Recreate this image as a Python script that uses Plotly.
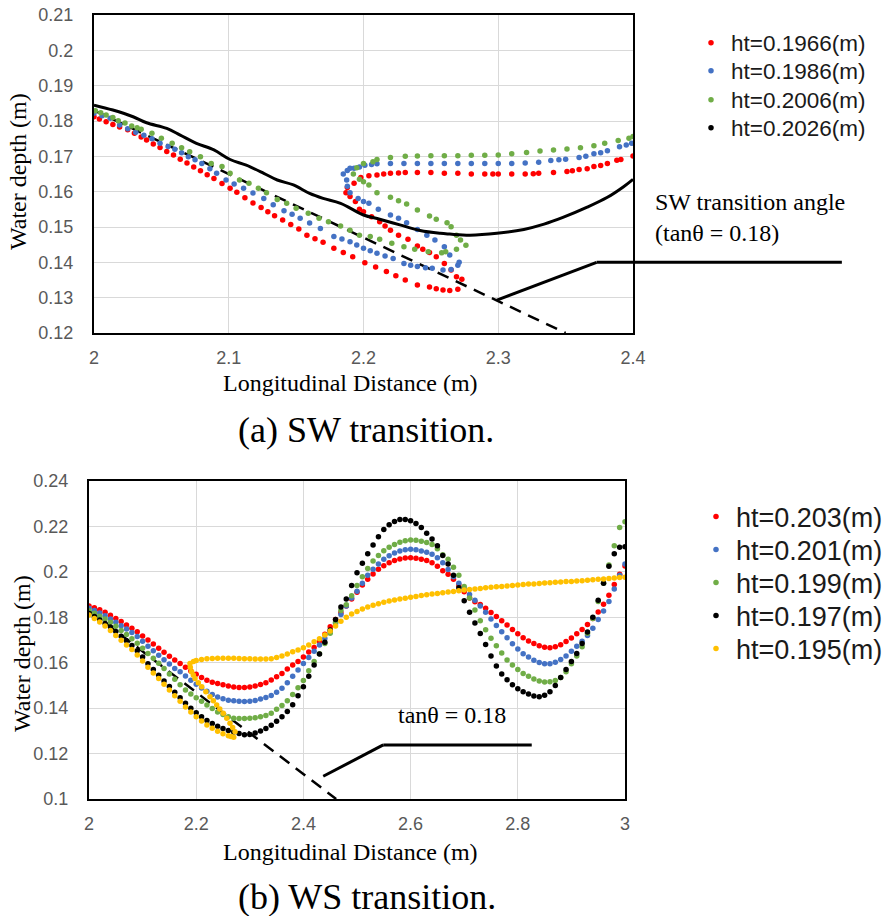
import plotly.graph_objects as go

W, H = 892, 916

# ---------------- (a) SW transition : data ----------------
sw_labels = ["ht=0.1966(m)", "ht=0.1986(m)", "ht=0.2006(m)", "ht=0.2026(m)"]

sw_red_x = [2.000, 2.004, 2.009, 2.014, 2.019, 2.025, 2.030, 2.035, 2.039, 2.044, 2.049, 2.054, 2.059, 2.064, 2.069,
            2.074, 2.079, 2.084, 2.089, 2.095, 2.101, 2.106, 2.112, 2.118, 2.124, 2.129, 2.134, 2.140, 2.146, 2.152,
            2.158, 2.164, 2.170, 2.178, 2.185, 2.192, 2.201, 2.209, 2.217, 2.224, 2.231, 2.240, 2.249, 2.254, 2.259,
            2.264, 2.270,
            2.273, 2.269, 2.265, 2.260, 2.254, 2.249, 2.244, 2.240, 2.233, 2.226, 2.220, 2.216, 2.212, 2.206, 2.200,
            2.197, 2.194, 2.190, 2.187,
            2.188, 2.193, 2.198, 2.204, 2.210, 2.215, 2.220, 2.226, 2.231, 2.240, 2.250, 2.260, 2.270, 2.280, 2.290,
            2.296, 2.300, 2.310, 2.320, 2.326, 2.330, 2.341, 2.351, 2.355, 2.360, 2.366, 2.371, 2.376, 2.381, 2.388,
            2.391, 2.400]
sw_red_y = [0.1812, 0.1806, 0.1798, 0.1790, 0.1783, 0.1775, 0.1765, 0.1755, 0.1746, 0.1735, 0.1725, 0.1714, 0.1704,
            0.1692, 0.1681, 0.1670, 0.1659, 0.1648, 0.1637, 0.1623, 0.1610, 0.1598, 0.1583, 0.1568, 0.1555, 0.1543,
            0.1532, 0.1520, 0.1507, 0.1494, 0.1477, 0.1467, 0.1457, 0.1440, 0.1428, 0.1416, 0.1399, 0.1387, 0.1374,
            0.1362, 0.1350, 0.1336, 0.1330, 0.1325, 0.1322, 0.1320, 0.1324,
            0.1352, 0.1359, 0.1378, 0.1397, 0.1416, 0.1428, 0.1437, 0.1446, 0.1465, 0.1477, 0.1491, 0.1503, 0.1515,
            0.1529, 0.1543, 0.1550, 0.1572, 0.1586, 0.1597,
            0.1612, 0.1624, 0.1640, 0.1645, 0.1647, 0.1650, 0.1652, 0.1653, 0.1654, 0.1654, 0.1654, 0.1652, 0.1652,
            0.1650, 0.1650, 0.1650, 0.1650, 0.1650, 0.1650, 0.1651, 0.1652, 0.1654, 0.1657, 0.1659, 0.1663, 0.1665,
            0.1671, 0.1674, 0.1680, 0.1689, 0.1691, 0.1701]

sw_blue_x = [2.000, 2.006, 2.012, 2.019, 2.025, 2.031, 2.037, 2.043, 2.049, 2.055, 2.060, 2.065, 2.070, 2.075, 2.080,
             2.086, 2.091, 2.098, 2.104, 2.111, 2.118, 2.126, 2.133, 2.141, 2.147, 2.153, 2.160, 2.168, 2.178, 2.184,
             2.190, 2.195, 2.200, 2.205, 2.210, 2.216, 2.222, 2.230, 2.235, 2.240, 2.246, 2.251, 2.259, 2.265, 2.270,
             2.271, 2.264, 2.260, 2.253, 2.247, 2.240, 2.232, 2.226, 2.220, 2.211, 2.204, 2.200, 2.196, 2.190, 2.188,
             2.1875, 2.185, 2.188, 2.190, 2.193, 2.197, 2.201, 2.206,
             2.210, 2.220, 2.230, 2.240, 2.250, 2.260, 2.270, 2.280, 2.290, 2.300, 2.310, 2.320, 2.330, 2.339, 2.345,
             2.350, 2.360, 2.365, 2.371, 2.376, 2.381, 2.390, 2.395, 2.399]
sw_blue_y = [0.1822, 0.1815, 0.1808, 0.1789, 0.1778, 0.1768, 0.1760, 0.1750, 0.1737, 0.1728, 0.1720, 0.1710, 0.1699,
             0.1690, 0.1680, 0.1665, 0.1652, 0.1633, 0.1622, 0.1610, 0.1596, 0.1581, 0.1563, 0.1546, 0.1536, 0.1525,
             0.1511, 0.1496, 0.1473, 0.1466, 0.1458, 0.1449, 0.1440, 0.1433, 0.1426, 0.1418, 0.1411, 0.1397, 0.1392,
             0.1388, 0.1385, 0.1383, 0.1378, 0.1380, 0.1392,
             0.1400, 0.1421, 0.1444, 0.1463, 0.1477, 0.1493, 0.1512, 0.1525, 0.1534, 0.1550, 0.1567, 0.1572, 0.1581,
             0.1597, 0.1615, 0.1633, 0.1650, 0.1660, 0.1666, 0.1666, 0.1670, 0.1675, 0.1677,
             0.1679, 0.1680, 0.1680, 0.1680, 0.1680, 0.1680, 0.1680, 0.1680, 0.1680, 0.1680, 0.1680, 0.1681, 0.1683,
             0.1688, 0.1690, 0.1692, 0.1697, 0.1700, 0.1707, 0.1710, 0.1716, 0.1727, 0.1732, 0.1737]

sw_green_x = [2.001, 2.005, 2.009, 2.014, 2.018, 2.023, 2.028, 2.032, 2.035, 2.043, 2.050, 2.058, 2.065, 2.071, 2.079,
              2.087, 2.095, 2.101, 2.108, 2.115, 2.122, 2.128, 2.136, 2.143, 2.150, 2.159, 2.167, 2.174, 2.183, 2.190,
              2.197, 2.205, 2.212, 2.221, 2.230, 2.238, 2.248, 2.258, 2.261, 2.269,
              2.276, 2.272, 2.269, 2.265, 2.262, 2.254, 2.249, 2.240, 2.232, 2.226, 2.220, 2.210, 2.204, 2.200, 2.197,
              2.1925, 2.195, 2.200, 2.207, 2.210, 2.220, 2.231,
              2.240, 2.250, 2.260, 2.270, 2.280, 2.290, 2.300, 2.310, 2.321, 2.331, 2.341, 2.351, 2.361, 2.371, 2.379,
              2.389, 2.397, 2.400]
sw_green_y = [0.1829, 0.1823, 0.1817, 0.1810, 0.1801, 0.1794, 0.1786, 0.1781, 0.1777, 0.1765, 0.1751, 0.1737, 0.1724,
              0.1713, 0.1699, 0.1680, 0.1671, 0.1652, 0.1633, 0.1624, 0.1610, 0.1597, 0.1578, 0.1567, 0.1553, 0.1539,
              0.1525, 0.1515, 0.1503, 0.1491, 0.1477, 0.1473, 0.1465, 0.1454, 0.1444, 0.1437, 0.1430, 0.1427, 0.1430,
              0.1437,
              0.1448, 0.1463, 0.1477, 0.1501, 0.1512, 0.1522, 0.1531, 0.1548, 0.1565, 0.1574, 0.1584, 0.1597, 0.1619,
              0.1628, 0.1635, 0.1650, 0.1668, 0.1680, 0.1685, 0.1691, 0.1697, 0.1700,
              0.1701, 0.1702, 0.1702, 0.1702, 0.1703, 0.1703, 0.1704, 0.1707, 0.1711, 0.1715, 0.1718, 0.1721, 0.1724,
              0.1730, 0.1737, 0.1745, 0.1751, 0.1756]

sw_black_x = [2.000, 2.014, 2.029, 2.039, 2.054, 2.064, 2.076, 2.089, 2.101, 2.113, 2.126, 2.136, 2.148, 2.160, 2.170,
              2.183, 2.200, 2.212, 2.227, 2.242, 2.257, 2.264, 2.279, 2.299, 2.319, 2.334, 2.348, 2.366, 2.381, 2.393,
              2.400]
sw_black_y = [0.1845, 0.1831, 0.1812, 0.1795, 0.1779, 0.1760, 0.1737, 0.1718, 0.1691, 0.1675, 0.1652, 0.1633, 0.1619,
              0.1595, 0.1581, 0.1567, 0.1534, 0.1522, 0.1506, 0.1490, 0.1482, 0.1480, 0.1477, 0.1482, 0.1493, 0.1508,
              0.1527, 0.1556, 0.1584, 0.1614, 0.1635]

# SW transition angle guide (tan = 0.18) and its leader line
sw_slope_x = [2.0, 2.35]
sw_slope_y = [0.183, 0.120]
sw_leader_x = [2.299, 2.373, 2.555]
sw_leader_y = [0.1293, 0.1400, 0.1400]
sw_note_x, sw_note_y = 2.4148, 0.1526

# ---------------- (b) WS transition : data ----------------
ws_labels = ["ht=0.203(m)", "ht=0.201(m)", "ht=0.199(m)", "ht=0.197(m)", "ht=0.195(m)"]

ws_x = [2.00, 2.01, 2.02, 2.03, 2.04, 2.05, 2.06, 2.07, 2.08, 2.09, 2.10, 2.11, 2.12, 2.13, 2.14, 2.15, 2.16, 2.17,
        2.18, 2.19, 2.20, 2.21, 2.22, 2.23, 2.24, 2.25, 2.26, 2.27, 2.28, 2.29, 2.30, 2.31, 2.32, 2.33, 2.34, 2.35,
        2.36, 2.37, 2.38, 2.39, 2.40, 2.41, 2.42, 2.43, 2.44, 2.45, 2.46, 2.47, 2.48, 2.49, 2.50, 2.51, 2.52, 2.53,
        2.54, 2.55, 2.56, 2.57, 2.58, 2.59, 2.60, 2.61, 2.62, 2.63, 2.64, 2.65, 2.66, 2.67, 2.68, 2.69, 2.70, 2.71,
        2.72, 2.73, 2.74, 2.75, 2.76, 2.77, 2.78, 2.79, 2.80, 2.81, 2.82, 2.83, 2.84, 2.85, 2.86, 2.87, 2.88, 2.89,
        2.90, 2.91, 2.92, 2.93, 2.94, 2.95, 2.96, 2.97, 2.98, 2.99, 3.00]

ws_red_y = [0.1850, 0.1842, 0.1833, 0.1822, 0.1809, 0.1795, 0.1781, 0.1766, 0.1752, 0.1736, 0.1718, 0.1700, 0.1682,
            0.1664, 0.1646, 0.1629, 0.1612, 0.1596, 0.1580, 0.1564, 0.1549, 0.1535, 0.1523, 0.1514, 0.1508, 0.1503,
            0.1497, 0.1493, 0.1491, 0.1491, 0.1493, 0.1497, 0.1504, 0.1512, 0.1524, 0.1538, 0.1553, 0.1572, 0.1590,
            0.1605, 0.1625, 0.1647, 0.1667, 0.1694, 0.1725, 0.1758, 0.1790, 0.1820, 0.1850, 0.1880, 0.1910, 0.1942,
            0.1968, 0.1991, 0.2011, 0.2027, 0.2040, 0.2050, 0.2057, 0.2061, 0.2062, 0.2060, 0.2056, 0.2050, 0.2040,
            0.2025, 0.2005, 0.1990, 0.1967, 0.1942, 0.1912, 0.1885, 0.1868, 0.1856, 0.1840, 0.1821, 0.1803, 0.1785,
            0.1766, 0.1746, 0.1727, 0.1710, 0.1696, 0.1685, 0.1675, 0.1668, 0.1666, 0.1670, 0.1679, 0.1693, 0.1709,
            0.1727, 0.1746, 0.1768, 0.1795, 0.1823, 0.1857, 0.1897, 0.1944, 0.1990, 0.2026]

ws_blue_y = [0.1840, 0.1830, 0.1819, 0.1807, 0.1793, 0.1778, 0.1763, 0.1748, 0.1733, 0.1715, 0.1695, 0.1673, 0.1653,
             0.1633, 0.1613, 0.1594, 0.1575, 0.1560, 0.1542, 0.1523, 0.1505, 0.1489, 0.1474, 0.1460, 0.1449, 0.1441,
             0.1435, 0.1432, 0.1430, 0.1429, 0.1430, 0.1434, 0.1440, 0.1447, 0.1456, 0.1470, 0.1488, 0.1512, 0.1540,
             0.1568, 0.1597, 0.1623, 0.1650, 0.1678, 0.1707, 0.1737, 0.1773, 0.1812, 0.1850, 0.1885, 0.1915, 0.1950,
             0.1985, 0.2012, 0.2035, 0.2055, 0.2071, 0.2083, 0.2092, 0.2097, 0.2099, 0.2097, 0.2092, 0.2086, 0.2077,
             0.2062, 0.2040, 0.2010, 0.1978, 0.1950, 0.1925, 0.1900, 0.1875, 0.1850, 0.1822, 0.1792, 0.1764, 0.1736,
             0.1710, 0.1684, 0.1660, 0.1640, 0.1625, 0.1611, 0.1601, 0.1595, 0.1595, 0.1602, 0.1614, 0.1630, 0.1650,
             0.1672, 0.1695, 0.1720, 0.1752, 0.1790, 0.1828, 0.1870, 0.1925, 0.1985, 0.2035]

ws_green_y = [0.1829, 0.1818, 0.1805, 0.1792, 0.1778, 0.1760, 0.1742, 0.1724, 0.1706, 0.1686, 0.1664, 0.1641, 0.1620,
              0.1598, 0.1574, 0.1550, 0.1527, 0.1503, 0.1480, 0.1462, 0.1446, 0.1430, 0.1414, 0.1398, 0.1383, 0.1372,
              0.1362, 0.1356, 0.1354, 0.1354, 0.1355, 0.1358, 0.1362, 0.1368, 0.1378, 0.1395, 0.1412, 0.1432, 0.1460,
              0.1490, 0.1522, 0.1565, 0.1605, 0.1640, 0.1685, 0.1730, 0.1778, 0.1830, 0.1855, 0.1895, 0.1940, 0.1978,
              0.2015, 0.2048, 0.2072, 0.2093, 0.2108, 0.2120, 0.2130, 0.2137, 0.2140, 0.2139, 0.2135, 0.2129, 0.2120,
              0.2102, 0.2075, 0.2055, 0.2020, 0.1985, 0.1935, 0.1885, 0.1832, 0.1785, 0.1745, 0.1708, 0.1675, 0.1643,
              0.1612, 0.1590, 0.1570, 0.1553, 0.1540, 0.1528, 0.1519, 0.1515, 0.1516, 0.1522, 0.1535, 0.1560, 0.1595,
              0.1630, 0.1670, 0.1730, 0.1795, 0.1870, 0.1950, 0.2030, 0.2115, 0.2195, 0.2221]

ws_black_y = [0.1817, 0.1803, 0.1788, 0.1773, 0.1757, 0.1737, 0.1717, 0.1697, 0.1676, 0.1653, 0.1625, 0.1595, 0.1570,
              0.1545, 0.1520, 0.1495, 0.1470, 0.1446, 0.1422, 0.1400, 0.1380, 0.1362, 0.1346, 0.1332, 0.1320, 0.1310,
              0.1302, 0.1295, 0.1288, 0.1283, 0.1284, 0.1291, 0.1299, 0.1310, 0.1325, 0.1342, 0.1362, 0.1385, 0.1415,
              0.1455, 0.1494, 0.1540, 0.1590, 0.1638, 0.1690, 0.1744, 0.1790, 0.1845, 0.1880, 0.1940, 0.1996, 0.2038,
              0.2080, 0.2118, 0.2155, 0.2186, 0.2207, 0.2222, 0.2231, 0.2230, 0.2225, 0.2213, 0.2195, 0.2170, 0.2145,
              0.2115, 0.2072, 0.2035, 0.1985, 0.1930, 0.1873, 0.1822, 0.1775, 0.1729, 0.1680, 0.1630, 0.1585, 0.1550,
              0.1525, 0.1503, 0.1485, 0.1472, 0.1462, 0.1454, 0.1450, 0.1457, 0.1472, 0.1500, 0.1535, 0.1570, 0.1605,
              0.1641, 0.1685, 0.1735, 0.1800, 0.1875, 0.1950, 0.2025, 0.2080, 0.2108, 0.2111]

ws_yellow_x = [2.00, 2.01, 2.02, 2.03, 2.04, 2.05, 2.06, 2.07, 2.08, 2.09, 2.10, 2.11, 2.12, 2.13, 2.14, 2.15, 2.16,
               2.17, 2.18, 2.19, 2.20, 2.21, 2.22, 2.23, 2.24, 2.25, 2.26, 2.265, 2.27,
               2.2724, 2.268, 2.263, 2.257, 2.2506, 2.244, 2.2382, 2.232, 2.2257, 2.218, 2.2103, 2.204, 2.1978, 2.1946,
               2.1915, 2.189, 2.1884,
               2.195, 2.20, 2.21, 2.22, 2.23, 2.24, 2.25, 2.26, 2.27, 2.28, 2.29, 2.30, 2.31, 2.32, 2.33, 2.34, 2.35,
               2.36, 2.37, 2.38, 2.39, 2.40, 2.41, 2.42, 2.43, 2.44, 2.45, 2.46, 2.47, 2.48, 2.49, 2.50, 2.51, 2.52,
               2.53, 2.54, 2.55, 2.56, 2.57, 2.58, 2.59, 2.60, 2.61, 2.62, 2.63, 2.64, 2.65, 2.66, 2.67, 2.68, 2.69,
               2.70, 2.71, 2.72, 2.73, 2.74, 2.75, 2.76, 2.77, 2.78, 2.79, 2.80, 2.81, 2.82, 2.83, 2.84, 2.85, 2.86,
               2.87, 2.88, 2.89, 2.90, 2.91, 2.92, 2.93, 2.94, 2.95, 2.96, 2.97, 2.98, 2.99, 3.00]
ws_yellow_y = [0.1810, 0.1795, 0.1779, 0.1762, 0.1742, 0.1720, 0.1699, 0.1678, 0.1658, 0.1634, 0.1607, 0.1580, 0.1555,
               0.1530, 0.1505, 0.1480, 0.1455, 0.1430, 0.1405, 0.1383, 0.1362, 0.1343, 0.1326, 0.1311, 0.1298, 0.1287,
               0.1278, 0.1275, 0.1272,
               0.1296, 0.1315, 0.1333, 0.1355, 0.1377, 0.1396, 0.1414, 0.1432, 0.1450, 0.1472, 0.1494, 0.1512, 0.1531,
               0.1546, 0.1560, 0.1580, 0.1597,
               0.1605, 0.1610, 0.1614, 0.1617, 0.1619, 0.1620, 0.1620, 0.1620, 0.1620, 0.1619, 0.1618, 0.1617, 0.1616,
               0.1616, 0.1616, 0.1618, 0.1623, 0.1630, 0.1638, 0.1648, 0.1656, 0.1666, 0.1678, 0.1692, 0.1705, 0.1722,
               0.1740, 0.1762, 0.1782, 0.1800, 0.1815, 0.1826, 0.1836, 0.1845, 0.1853, 0.1860, 0.1866, 0.1872, 0.1876,
               0.1880, 0.1884, 0.1888, 0.1892, 0.1896, 0.1899, 0.1902, 0.1905, 0.1908, 0.1911, 0.1914, 0.1917, 0.1920,
               0.1922, 0.1925, 0.1927, 0.1930, 0.1932, 0.1934, 0.1936, 0.1938, 0.1940, 0.1942, 0.1944, 0.1946, 0.1947,
               0.1949, 0.1951, 0.1952, 0.1954, 0.1955, 0.1957, 0.1958, 0.1960, 0.1961, 0.1963, 0.1965, 0.1967, 0.1969,
               0.1971, 0.1973, 0.1975, 0.1976]

ws_slope_x = [2.0, 2.4611]
ws_slope_y = [0.183, 0.100]
ws_leader_x = [2.437, 2.549, 2.826]
ws_leader_y = [0.1100, 0.1238, 0.1238]
ws_note_x, ws_note_y = 2.677, 0.1370

# ---------------- styles ----------------
RED, BLUE, GREEN, BLACK, YELLOW = "#FF0000", "#4472C4", "#70AD47", "#000000", "#FFC000"
SANS = "Liberation Sans, Arial, sans-serif"
SERIF = "Liberation Serif, Times New Roman, serif"
TICK_FONT = dict(family=SANS, size=18, color="#595959")
GRID = "#D9D9D9"

SW_XR, SW_YR = (2.0, 2.4), (0.12, 0.21)
WS_XR, WS_YR = (2.0, 3.0), (0.10, 0.24)

# legend entry placement (pixels): left edge and vertical centre of each entry
SW_LEG_LEFT, SW_LEG_Y, SW_LEG_FONT = 691, [43, 71, 100, 128], 22.5
WS_LEG_LEFT, WS_LEG_Y, WS_LEG_FONT = 696, [517, 550, 583, 616, 649], 27

fig = go.Figure()
legend_layout = {}
leg_counter = [0]


def new_legend(left, yc, size):
    leg_counter[0] += 1
    key = "legend" if leg_counter[0] == 1 else "legend%d" % leg_counter[0]
    legend_layout[key] = dict(x=left / W, y=1 - yc / H, xanchor="left", yanchor="middle",
                              bgcolor="rgba(0,0,0,0)", borderwidth=0,
                              font=dict(family=SANS, size=size, color="#1a1a1a"))
    return key


def dots(x, y, color, name, xa, ya, legend=None, size=5.5):
    fig.add_trace(go.Scatter(x=x, y=y, mode="markers", name=name, showlegend=legend is not None,
                             legend=legend or "legend",
                             marker=dict(color=color, size=size, line=dict(width=0)),
                             xaxis=xa, yaxis=ya, hoverinfo="skip"))


# --- (a)
fig.add_trace(go.Scatter(x=sw_slope_x, y=sw_slope_y, mode="lines", showlegend=False, hoverinfo="skip",
                         line=dict(color=BLACK, width=2.5, dash="12px,8px"), xaxis="x", yaxis="y"))
for xs, ys, col, i in [(sw_red_x, sw_red_y, RED, 0), (sw_blue_x, sw_blue_y, BLUE, 1),
                       (sw_green_x, sw_green_y, GREEN, 2)]:
    dots(xs, ys, col, sw_labels[i], "x", "y", new_legend(SW_LEG_LEFT, SW_LEG_Y[i], SW_LEG_FONT))
dots([None], [None], BLACK, sw_labels[3], "x", "y", new_legend(SW_LEG_LEFT, SW_LEG_Y[3], SW_LEG_FONT))
fig.add_trace(go.Scatter(x=sw_black_x, y=sw_black_y, mode="lines", showlegend=False, hoverinfo="skip",
                         line=dict(color=BLACK, width=3, shape="spline"), xaxis="x", yaxis="y"))

# --- (b)
fig.add_trace(go.Scatter(x=ws_slope_x, y=ws_slope_y, mode="lines", showlegend=False, hoverinfo="skip",
                         line=dict(color=BLACK, width=2.5, dash="12px,8px"), xaxis="x2", yaxis="y2"))
for xs, ys, col, i in [(ws_x, ws_red_y, RED, 0), (ws_x, ws_blue_y, BLUE, 1), (ws_x, ws_green_y, GREEN, 2),
                       (ws_x, ws_black_y, BLACK, 3), (ws_yellow_x, ws_yellow_y, YELLOW, 4)]:
    dots(xs, ys, col, ws_labels[i], "x2", "y2", new_legend(WS_LEG_LEFT, WS_LEG_Y[i], WS_LEG_FONT))


def axis(domain, rng, dtick, anchor, standoff):
    return dict(domain=domain, range=list(rng), dtick=dtick, tick0=rng[0], anchor=anchor,
                showgrid=True, gridcolor=GRID, gridwidth=1, zeroline=False,
                showline=True, linecolor=BLACK, linewidth=2, mirror=True,
                ticks="", tickfont=TICK_FONT, ticklabelstandoff=standoff, fixedrange=True)


fig.update_layout(
    width=W, height=H, margin=dict(l=0, r=0, t=0, b=0, autoexpand=False),
    paper_bgcolor="white", plot_bgcolor="white",
    xaxis=axis([94 / W, 633 / W], SW_XR, 0.1, "y", 7),
    yaxis=axis([1 - 333 / H, 1 - 15 / H], SW_YR, 0.01, "x", 15),
    xaxis2=axis([89 / W, 625 / W], WS_XR, 0.2, "y2", 7),
    yaxis2=axis([1 - 799 / H, 1 - 481 / H], WS_YR, 0.02, "x2", 15),
    **legend_layout,
)


def frac(v, r):
    return (v - r[0]) / (r[1] - r[0])


shapes = []
for lx, ly, xr, yr, xa, ya in [(sw_leader_x, sw_leader_y, SW_XR, SW_YR, "x", "y"),
                               (ws_leader_x, ws_leader_y, WS_XR, WS_YR, "x2", "y2")]:
    for i in range(len(lx) - 1):
        shapes.append(dict(type="line", xref=xa + " domain", yref=ya + " domain",
                           x0=frac(lx[i], xr), y0=frac(ly[i], yr), x1=frac(lx[i + 1], xr), y1=frac(ly[i + 1], yr),
                           line=dict(color=BLACK, width=3)))
fig.update_layout(shapes=shapes)

ann = [
    dict(text="SW transition angle<br>(tanθ = 0.18)", xref="x domain", yref="y domain",
         x=frac(sw_note_x, SW_XR), y=frac(sw_note_y, SW_YR), xanchor="left", yanchor="middle", align="left",
         showarrow=False, font=dict(family=SERIF, size=24, color=BLACK)),
    dict(text="tanθ = 0.18", xref="x2 domain", yref="y2 domain",
         x=frac(ws_note_x, WS_XR), y=frac(ws_note_y, WS_YR), xanchor="center", yanchor="middle",
         showarrow=False, font=dict(family=SERIF, size=24, color=BLACK)),
    dict(text="Water depth (m)", xref="paper", yref="paper", x=18 / W, y=1 - 172 / H, textangle=-90,
         xanchor="center", yanchor="middle", showarrow=False, font=dict(family=SERIF, size=24, color=BLACK)),
    dict(text="Water depth (m)", xref="paper", yref="paper", x=22 / W, y=1 - 654 / H, textangle=-90,
         xanchor="center", yanchor="middle", showarrow=False, font=dict(family=SERIF, size=24, color=BLACK)),
    dict(text="Longitudinal Distance (m)", xref="paper", yref="paper", x=350 / W, y=1 - 383 / H,
         xanchor="center", yanchor="middle", showarrow=False, font=dict(family=SERIF, size=24, color=BLACK)),
    dict(text="Longitudinal Distance (m)", xref="paper", yref="paper", x=350 / W, y=1 - 852 / H,
         xanchor="center", yanchor="middle", showarrow=False, font=dict(family=SERIF, size=24, color=BLACK)),
    dict(text="(a) SW transition.", xref="paper", yref="paper", x=366 / W, y=1 - 430 / H,
         xanchor="center", yanchor="middle", showarrow=False, font=dict(family=SERIF, size=36, color=BLACK)),
    dict(text="(b) WS transition.", xref="paper", yref="paper", x=367 / W, y=1 - 897 / H,
         xanchor="center", yanchor="middle", showarrow=False, font=dict(family=SERIF, size=36, color=BLACK)),
]
fig.update_layout(annotations=ann)

fig.write_html(
    "out.html",
    config={"displayModeBar": False},
    post_script=("var d=document.getElementById('{plot_id}');"
                 "d.style.position='fixed';d.style.left='0px';d.style.top='0px';"
                 "document.body.style.margin='0';document.body.style.padding='0';"
                 "document.body.style.overflow='hidden';"),
)
